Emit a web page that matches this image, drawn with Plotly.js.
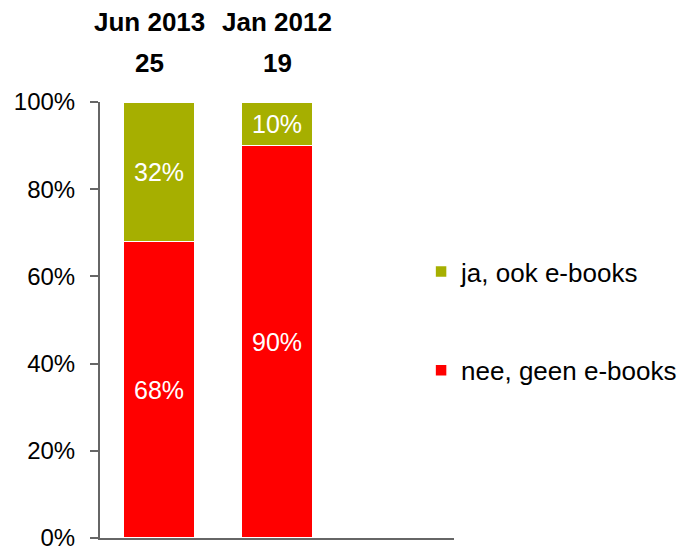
<!DOCTYPE html>
<html>
<head>
<meta charset="utf-8">
<script src="https://cdn.plot.ly/plotly-3.0.1.min.js"></script>
<style>html,body{margin:0;padding:0;background:#fff;}#chart{width:681px;height:550px;}</style>
</head>
<body>
<div id="chart"></div>
<script>
const categories = ['Jun 2013', 'Jan 2012'];
const counts = ['25', '19'];
const neeValues = [0.68, 0.90];
const jaValues = [0.32, 0.10];
const seriesNames = ['nee, geen e-books', 'ja, ook e-books'];
const yTicks = [0, 0.2, 0.4, 0.6, 0.8, 1.0];

const font = 'Liberation Sans, Arial, sans-serif';

const traces = [
  {
    type: 'bar', name: seriesNames[0], x: categories, y: neeValues,
    marker: {color: '#FF0000', line: {color: '#FFFFFF', width: 1.5}},
    text: neeValues.map(v => Math.round(v * 100) + '%'),
    textposition: 'inside', insidetextanchor: 'middle',
    textfont: {color: '#FFFFFF', size: 25, family: font},
    hoverinfo: 'none', legendgroup: 'a', legendrank: 2
  },
  {
    type: 'bar', name: seriesNames[1], x: categories, y: jaValues,
    marker: {color: '#A6AF00', line: {color: '#FFFFFF', width: 1.5}},
    text: jaValues.map(v => Math.round(v * 100) + '%'),
    textposition: 'inside', insidetextanchor: 'middle',
    textfont: {color: '#FFFFFF', size: 25, family: font},
    hoverinfo: 'none', legendgroup: 'b', legendrank: 1
  }
];

const headerShift = [-10, 0];
const annotations = [];
categories.forEach((c, i) => {
  annotations.push({x: c, xref: 'x', y: 1.183, yref: 'paper', text: '<b>' + c + '</b>', xshift: headerShift[i],
    showarrow: false, font: {size: 26, family: font, color: '#000'}, xanchor: 'center', yanchor: 'middle'});
  annotations.push({x: c, xref: 'x', y: 1.089, yref: 'paper', text: '<b>' + counts[i] + '</b>', xshift: headerShift[i],
    showarrow: false, font: {size: 26, family: font, color: '#000'}, xanchor: 'center', yanchor: 'middle'});
});

const layout = {
  width: 681, height: 550,
  margin: {l: 100, r: 227, t: 102, b: 12, autoexpand: false},
  paper_bgcolor: '#FFFFFF', plot_bgcolor: '#FFFFFF',
  barmode: 'stack', bargap: 0.39,
  font: {family: font, size: 24, color: '#000'},
  xaxis: {
    type: 'category', range: [-0.5, 2.5], showticklabels: false,
    showline: true, linecolor: '#666666', linewidth: 2, ticks: '',
    showgrid: false, zeroline: false, fixedrange: true
  },
  yaxis: {
    range: [0, 1], tickvals: yTicks, tickformat: '.0%',
    showline: true, linecolor: '#666666', linewidth: 2,
    ticks: 'outside', ticklen: 8, tickwidth: 2, tickcolor: '#666666',
    ticklabelstandoff: 10, ticklabeloverflow: 'allow',
    showgrid: false, zeroline: false, tickfont: {size: 24, color: '#000'},
    fixedrange: true
  },
  showlegend: true,
  legend: {
    x: 0.907, xanchor: 'left', y: 0.665, yanchor: 'top',
    traceorder: 'grouped', tracegroupgap: 62,
    font: {size: 26, color: '#000'}, bgcolor: 'rgba(0,0,0,0)',
    itemwidth: 30
  },
  annotations: annotations
};

Plotly.newPlot('chart', traces, layout, {displayModeBar: false, staticPlot: true});
</script>
</body>
</html>
